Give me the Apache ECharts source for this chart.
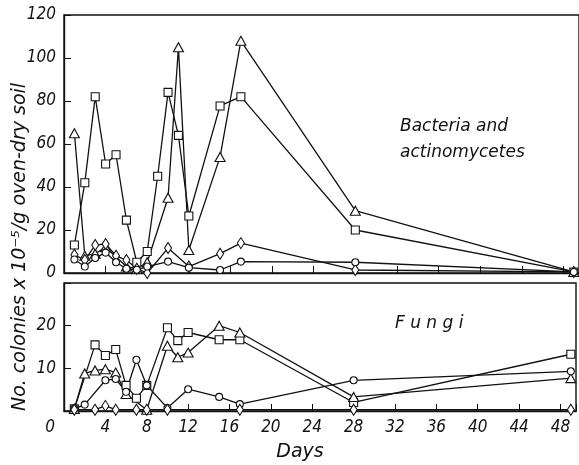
<!DOCTYPE html>
<html><head><meta charset="utf-8">
<script src="https://cdn.jsdelivr.net/npm/echarts@6/dist/echarts.min.js"></script>
<style>html,body{margin:0;padding:0;background:#fff}#c{width:579px;height:465px}</style>
</head><body><div id="c"></div>
<script>
// ---- Bacteria and actinomycetes (top panel) ----
var bSqDays = [1,2,3,4,5,6,7,8,9,10,11,12,15,17,28,49];
var bSqVals = [13,42,82,50.7,55,24.6,5,10,45,84,64,26.5,77.7,82,20,0.5];
var bTriDays = [1,2,3,4,6,7,8,10,11,12,15,17,28,49];
var bTriVals = [65,8,9,12,3,2,5,35,105,10.7,54,108,29,0.5];
var bDiaDays = [1,2,3,4,5,6,7,8,10,12,15,17,28,49];
var bDiaVals = [8.5,6,13,13.5,8,6,2,0,11.6,3,9,13.9,1.4,0.5];
var bCirDays = [1,2,3,4,5,6,7,8,10,12,15,17,28,49];
var bCirVals = [6.3,3,7,9.5,5,2,1.5,3,5.3,2.5,1.4,5.3,5,0.5];
// ---- Fungi (bottom panel) ----
var fSqDays = [1,3,4,5,6,7,8,10,11,12,15,17,28,49];
var fSqVals = [0.5,15.5,13,14.4,6,3,6,19.5,16.5,18.4,16.7,16.7,2,13.3];
var fTriDays = [1,2,3,4,5,6,8,10,11,12,15,17,28,49];
var fTriVals = [0.5,8.8,9.5,9.8,9,4,0.3,15.3,12.6,13.7,20,18.4,3.3,7.7];
var fCirDays = [1,2,4,5,6,7,8,10,12,15,17,28,49];
var fCirVals = [0.5,1.5,7.2,7.5,4.5,12,6,0.7,5.1,3.3,1.6,7.2,9.3];
var fDiaDays = [1,3,4,5,7,8,10,17,28,49];
var fDiaVals = [0.3,0.3,1.2,0.3,0.3,0.3,0.3,0.3,0.3,0.3];
// ---- axis ticks ----
var xTicks = [0,4,8,12,16,20,24,28,32,36,40,44,48];
var topYTicks = [0,20,40,60,80,100,120];
var botYTicks = [10,20];

function zip(a,b){return a.map(function(d,i){return [d,b[i]];});}
var FONT = '"DejaVu Sans Condensed","DejaVu Sans",sans-serif';
var FONT2 = '"DejaVu Sans",sans-serif';
var chart = echarts.init(document.getElementById('c'));
function mk(name, days, vals, sym, size, gi){
  return {type:'line', name:name, xAxisIndex:gi, yAxisIndex:gi, data:zip(days,vals),
    symbol:sym, symbolSize:size, showAllSymbol:true, animation:false, z: 3,
    lineStyle:{color:'#111', width:1.3},
    itemStyle:{color:'#fff', borderColor:'#111', borderWidth:1.1}};
}
var axisLine = {show:true, lineStyle:{color:'#111', width:1.4}};
var xAxisBase = function(gi, showLabels){
  return {type:'value', gridIndex:gi, min:0, max:49.5, interval:4,
    axisLine:axisLine, splitLine:{show:false},
    axisTick:{show:true, inside:true, length:7, lineStyle:{color:'#111'}},
    axisLabel:{show:showLabels, margin:8, color:'#111', fontSize:17, fontStyle:'italic', fontFamily:FONT,
      formatter:function(v){ if(xTicks.indexOf(v)<0) return ''; return v===0 ? '{z|0}' : String(v);},
      rich:{z:{padding:[0,28,0,0], fontSize:17, fontStyle:'italic', fontFamily:FONT, color:'#111'}}}
  };
};
chart.setOption({
  animation:false,
  backgroundColor:'#fff',
  grid:[
    {left:64, right:-1, top:15, height:258, show:true, borderColor:'#111', borderWidth:1.4},
    {left:64, right:-1, top:283, height:128, show:true, borderColor:'#111', borderWidth:1.4}
  ],
  xAxis:[xAxisBase(0,false), xAxisBase(1,true)],
  yAxis:[
    {type:'value', gridIndex:0, min:0, max:120, interval:20, axisLine:axisLine, splitLine:{show:false},
     axisTick:{show:true, inside:true, length:7, lineStyle:{color:'#111'}},
     axisLabel:{color:'#111', fontSize:17, fontStyle:'italic', fontFamily:FONT, margin:8,
       formatter:function(v){return topYTicks.indexOf(v)>=0?String(v):'';}}},
    {type:'value', gridIndex:1, min:0, max:30, interval:10, axisLine:axisLine, splitLine:{show:false},
     axisTick:{show:true, inside:true, length:7, lineStyle:{color:'#111'}},
     axisLabel:{color:'#111', fontSize:17, fontStyle:'italic', fontFamily:FONT, margin:8,
       formatter:function(v){return botYTicks.indexOf(v)>=0?String(v):'';}}}
  ],
  graphic:[
    {type:'text', x:20, y:247, rotation:Math.PI/2, style:{text:'No. colonies x 10\u207B\u2075/g oven-dry soil',
      font:'italic 19px '+FONT2, fill:'#111', align:'center', verticalAlign:'middle'}},
    {type:'text', x:300, y:452, style:{text:'Days', font:'italic 19px '+FONT2, fill:'#111', align:'center', verticalAlign:'middle'}},
    {type:'text', left:400, top:114, style:{text:'Bacteria and\nactinomycetes', font:'italic 17px '+FONT2, lineHeight:26, fill:'#111'}},
    {type:'text', left:395, top:315, style:{text:'F u n g i', font:'italic 17px '+FONT2, fill:'#111'}}
  ],
  series:[
    mk('bSq', bSqDays, bSqVals, 'rect', 8, 0),
    mk('bTri', bTriDays, bTriVals, 'triangle', [10,9], 0),
    mk('bDia', bDiaDays, bDiaVals, 'diamond', [7,11], 0),
    mk('bCir', bCirDays, bCirVals, 'circle', 7, 0),
    mk('fSq', fSqDays, fSqVals, 'rect', 8, 1),
    mk('fTri', fTriDays, fTriVals, 'triangle', [10,9], 1),
    mk('fCir', fCirDays, fCirVals, 'circle', 7, 1),
    mk('fDia', fDiaDays, fDiaVals, 'diamond', [7,11], 1)
  ]
});
</script></body></html>
